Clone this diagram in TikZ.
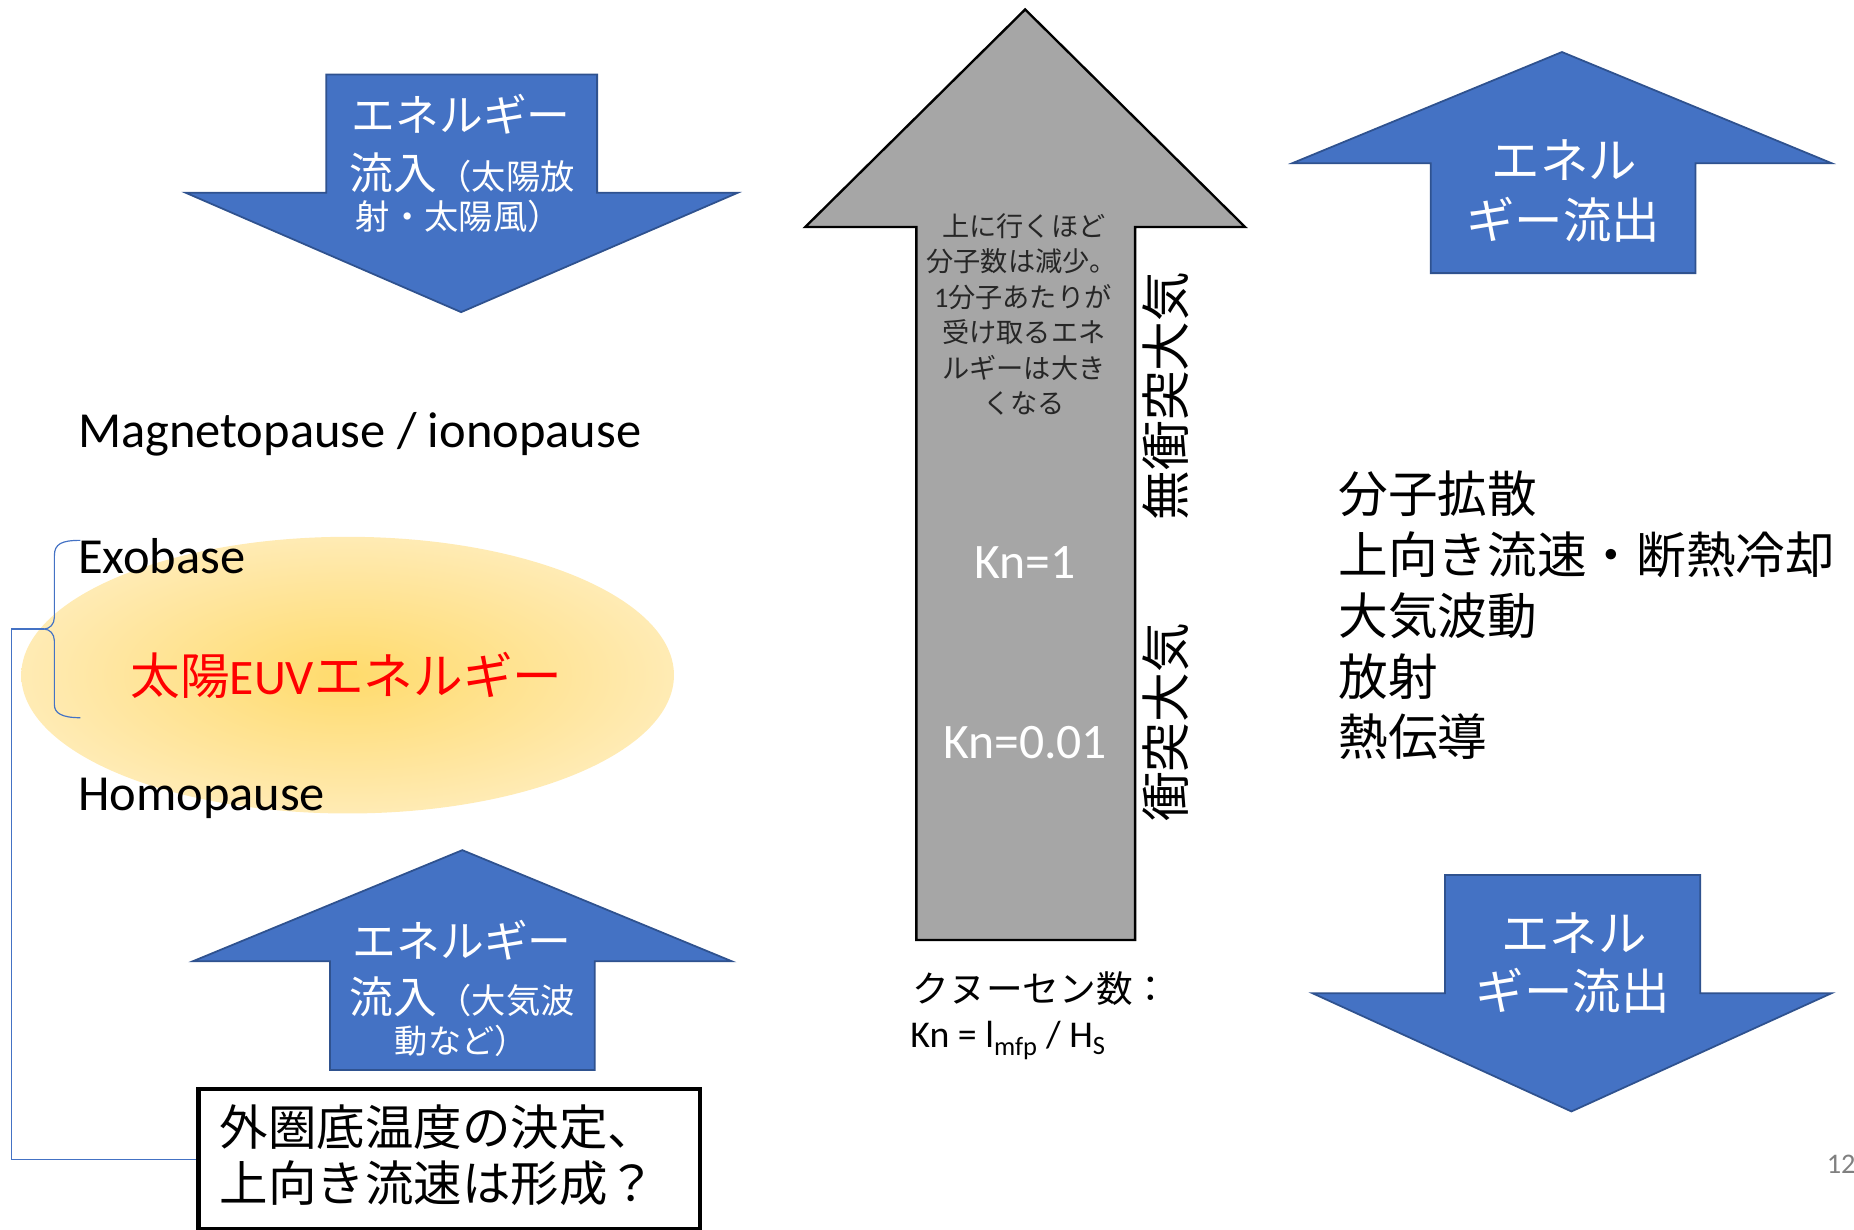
\documentclass[tikz,border=0pt]{standalone}
\usepackage{fontspec}
\setmainfont{Carlito}
\newfontfamily\jp{Noto Sans CJK JP}
\definecolor{pblue}{RGB}{68,114,196}
\definecolor{pblueedge}{RGB}{47,82,143}
\definecolor{pgray}{RGB}{166,166,166}
\definecolor{ptext}{RGB}{38,38,38}
\definecolor{glowin}{RGB}{255,219,108}
\definecolor{glowmid}{RGB}{255,230,160}
\definecolor{glowout}{RGB}{255,243,212}
\pgfdeclareradialshading{sunglow}{\pgfpoint{0bp}{0bp}}{color(0bp)=(glowin); color(18bp)=(glowmid); color(36bp)=(glowout); color(50bp)=(glowout)}
\newcommand\fsz[1]{\fontsize{#1}{#1}\selectfont}
\begin{document}
\begin{tikzpicture}[x=1pt,y=-1pt,
  bluearrow/.style={fill=pblue, draw=pblueedge, line width=1.5pt, line join=miter},
  grayarrow/.style={fill=pgray, draw=black, line width=2pt, line join=miter},
  txt/.style={inner sep=0pt, outer sep=0pt},
  wt/.style={txt, text=white},
  gt/.style={txt, text=ptext},
  conn/.style={draw=pblue, line width=1pt}]
\useasboundingbox (0,0) rectangle (1568,1040);

% glow ellipse
\shade[shading=sunglow] (294,571) ellipse [x radius=276pt, y radius=117pt];

% top-left down arrow
\draw[bluearrow] (276,63) -- (505,63) -- (505,163) -- (624,163) -- (390,264) -- (157,163) -- (276,163) -- cycle;
\node[wt] (tl1) at (390,97) {\jp\fsz{37}エネルギー};
\node[wt] (tl2) at (391,146) {\jp\fsz{37}流入\fsz{29}（太陽放};
\node[wt] (tl3) at (388,183) {\jp\fsz{29}射・太陽風）};

% bottom-left up arrow
\draw[bluearrow] (279,905) -- (503,905) -- (503,813) -- (619,813) -- (391,719) -- (163,813) -- (279,813) -- cycle;
\node[wt] (bl1) at (391,795) {\jp\fsz{37}エネルギー};
\node[wt] (bl2) at (391,843) {\jp\fsz{37}流入\fsz{29}（大気波};
\node[wt] (bl3) at (390,880) {\jp\fsz{28}動など）};

% top-right up arrow
\draw[bluearrow] (1210,231) -- (1434,231) -- (1434,138) -- (1549,138) -- (1321,44) -- (1093,138) -- (1210,138) -- cycle;
\node[wt] (tr1) at (1323,135) {\jp\fsz{41}エネル};
\node[wt] (tr2) at (1322,186) {\jp\fsz{41}ギー流出};

% bottom-right down arrow
\draw[bluearrow] (1222,740) -- (1438,740) -- (1438,840) -- (1549,840) -- (1329,940) -- (1110,840) -- (1222,840) -- cycle;
\node[wt] (br1) at (1331,789) {\jp\fsz{41}エネル};
\node[wt] (br2) at (1330,838) {\jp\fsz{41}ギー流出};

% central gray arrow
\draw[grayarrow] (775,795) -- (960,795) -- (960,192) -- (1053,192) -- (867,8) -- (681,192) -- (775,192) -- cycle;
\node[gt] (g1) at (866,191) {\jp\fsz{23}上に行くほど};
\node[gt] (g2) at (864,221) {\jp\fsz{23}分子数は減少。};
\node[gt] (g3) at (865,251) {\fsz{24}1{\jp\fsz{23}分子あたりが}};
\node[gt] (g4) at (866,281) {\jp\fsz{23}受け取るエネ};
\node[gt] (g5) at (866,311) {\jp\fsz{23}ルギーは大き};
\node[gt] (g6) at (866,341) {\jp\fsz{23}くなる};
\node[wt] (kn1) at (867,476) {\fsz{42}Kn=1};
\node[wt] (kn2) at (867,628) {\fsz{42}Kn=0.01};

% vertical labels
\node[txt, rotate=90] (free) at (986,335) {\jp\fsz{42}無衝突大気};
\node[txt, rotate=90] (coll) at (986,611) {\jp\fsz{42}衝突大気};

% Knudsen number
\node[txt, anchor=west] (kq) at (772,836) {\jp\fsz{31}クヌーセン数：};
\node[txt, anchor=west] (kf) at (770,880) {\fsz{32}Kn = l\textsubscript{mfp} / H\textsubscript{S}};

% left labels
\node[txt, anchor=west] (mag) at (66,367) {\fsz{42.7}Magnetopause / ionopause};
\node[txt, anchor=west] (exo) at (66,470) {\fsz{42.7}Exobase};
\node[txt, anchor=west] (homo) at (66,675) {\fsz{42.7}Homopause};
\node[txt, text=red] (euv) at (293,571) {\fsz{42}{\jp 太陽}EUV{\jp エネルギー}};

% right list
\node[txt, anchor=west] (r1) at (1132,418) {\jp\fsz{42}分子拡散};
\node[txt, anchor=west] (r2) at (1132,469) {\jp\fsz{42}上向き流速・断熱冷却};
\node[txt, anchor=west] (r3) at (1132,521) {\jp\fsz{42}大気波動};
\node[txt, anchor=west] (r4) at (1132,572) {\jp\fsz{42}放射};
\node[txt, anchor=west] (r5) at (1132,623) {\jp\fsz{42}熱伝導};

% question box
\node[draw=black, line width=4pt, fill=white, minimum width=424pt, minimum height=119pt, anchor=north west, inner sep=0pt] (box) at (166,919) {};
\node[txt, anchor=west] (q1) at (186,953) {\jp\fsz{41}外圏底温度の決定、};
\node[txt, anchor=west] (q2) at (186,1001) {\jp\fsz{41}上向き流速は形成？};

% brace and connector
\coordinate (btip) at (37,532);
\draw[conn] (68,457) .. controls (52,457) and (46,460) .. (46,470) -- (46,522) .. controls (46,528) and (42,532) .. (btip) .. controls (42,532) and (46,536) .. (46,542) -- (46,596) .. controls (46,603) and (52,607) .. (68,607);
\coordinate (cl) at (10,532);
\draw[conn] (btip) -- (cl) |- (box.west);

% page number
\node[txt, anchor=west, text=gray] (pg) at (1545,985) {\fsz{24}12};
\end{tikzpicture}
\end{document}
